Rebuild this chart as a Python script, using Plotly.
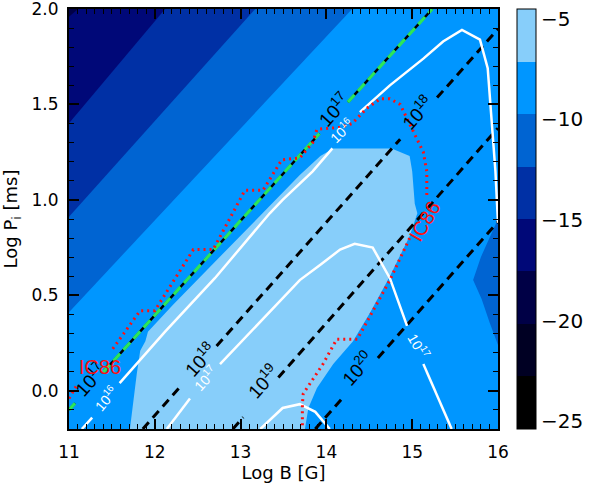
import plotly.graph_objects as go

# ---------------- data ----------------
B_RANGE = [11, 16]
P_RANGE = [-0.2, 2.0001]

# colour bands, bottom (lowest value) to top
band_colors = ['#000000', '#000023', '#000046', '#000878',
               '#0030a5', '#0064d2', '#0096ff', '#87cefa']
cb_min, cb_max = -25.39, -4.51
cb_ticks = [-25, -20, -15, -10, -5]
cb_ticktext = ['\u221225', '\u221220', '\u221215', '\u221210', '\u22125']

# filled-contour regions (boundaries in Log B, Log P)
band5_B = [11, 16, 16, 11]
band5_P = [-0.2, -0.2, 2.0, 2.0]
band6_B = [11.0, 11.0, 11.105]
band6_P = [1.96, 2.0, 2.0]
band4_B = [11, 11, 12.12, 16, 16]
band4_P = [-0.2, 1.402, 2.0, 2.0, -0.2]
band3_B = [11, 11, 13.17, 16, 16]
band3_P = [-0.2, 0.912, 2.0, 2.0, -0.2]
band2_B = [11, 11, 14.30, 16, 16]
band2_P = [-0.2, 0.412, 2.0, 2.0, -0.2]
wedge_B = [16, 15.90, 15.80, 15.71, 15.81, 15.90, 16]
wedge_P = [0.90, 0.80, 0.70, 0.58, 0.48, 0.36, 0.24]
blob_B = [11.71, 11.75, 11.79, 11.83, 11.89, 11.92, 12.21, 13.69, 13.93, 14.08,
          14.76, 14.97, 15.00, 15.03, 15.06, 14.97, 14.74, 14.51, 14.31, 14.08,
          13.89, 13.79, 13.75]
blob_P = [-0.2, -0.04, 0.09, 0.21, 0.26, 0.31, 0.45, 1.13, 1.23, 1.27,
          1.27, 1.23, 1.15, 0.98, 0.93, 0.81, 0.60, 0.41, 0.26, 0.14,
          0.015, -0.09, -0.2]

# black dashed lines (10^17 ... 10^20), gaps at the labels
e17_B = [11.0, 11.07, None, 11.40, 13.92, None, 14.25, 15.234]
e17_P = [-0.10, -0.065, None, 0.098, 1.348, None, 1.512, 2.0]
e18_B = [11.86, 12.29, None, 12.72, 14.86, None, 15.29, 16.0]
e18_P = [-0.2, 0.018, None, 0.235, 1.318, None, 1.536, 1.895]
e19_B = [12.91, 13.03, None, 13.44, 16.0]
e19_P = [-0.2, -0.139, None, 0.070, 1.376]
e20_B = [13.87, 14.18, None, 14.60, 16.0]
e20_P = [-0.2, -0.042, None, 0.172, 0.886]

# white solid contours
w16_B = [11.15, 11.27, None, 11.59, 12.12, 12.70, 13.11, 13.34, 13.49, 13.84, 14.07,
         None, 14.39, 14.74, 15.13, 15.36, 15.58, 15.79, 15.88, 15.94, 15.97, 16.0]
w16_P = [-0.2, -0.14, None, 0.04, 0.31, 0.59, 0.81, 0.93, 1.00, 1.15, 1.27,
         None, 1.46, 1.60, 1.74, 1.83, 1.89, 1.84, 1.69, 1.33, 1.15, 0.88]
w17_B = [12.14, 12.41, None, 12.76, 13.46, 13.69, 13.93, 14.16, 14.33, 14.54, 14.74,
         14.94, None, 15.13, 15.46]
w17_P = [-0.2, -0.04, None, 0.14, 0.47, 0.58, 0.66, 0.74, 0.77, 0.75, 0.59,
         0.34, None, 0.14, -0.2]
w18_B = [13.23, 13.49, 13.69, 13.87, 14.04]
w18_P = [-0.2, -0.09, -0.07, -0.11, -0.2]

# IC86 red dotted contour
ic_B = [11.0, 11.105, None, 11.51, 11.83, 12.00, 12.45, 12.68, 13.05, 13.26, 13.48,
        13.69, 13.84, 13.89, 14.16, 14.30, 14.47, 14.63, 14.74, 14.86, 15.01, 15.13,
        15.17, 15.17, None, 14.97, 14.74, 14.36, 14.12, 13.96, 13.73, 13.72, 13.72]
ic_P = [-0.04, 0.04, None, 0.22, 0.42, 0.42, 0.74, 0.74, 1.05, 1.05, 1.21,
        1.22, 1.30, 1.37, 1.38, 1.40, 1.48, 1.53, 1.53, 1.50, 1.36, 1.25,
        1.15, 1.02, None, 0.80, 0.58, 0.27, 0.27, 0.14, -0.015, -0.07, -0.2]

# contour labels: text, Log B, Log P, angle
black_labels = [("10<sup>17</sup>", 14.09, 1.474, -48),
                ("10<sup>18</sup>", 15.06, 1.46, -48),
                ("10<sup>17</sup>", 11.245, 0.062, -48),
                ("10<sup>18</sup>", 12.53, 0.165, -48),
                ("10<sup>19</sup>", 13.26, 0.05, -48),
                ("10<sup>20</sup>", 14.36, 0.12, -48)]
white_labels = [("10<sup>16</sup>", 14.18, 1.366, -45),
                ("10<sup>16</sup>", 11.43, -0.036, -50),
                ("10<sup>17</sup>", 12.59, 0.067, -48),
                ("10<sup>17</sup>", 15.08, 0.237, 60)]
red_labels = [("IC86", 11.36, 0.124, 0),
              ("IC86", 15.15, 0.887, -60)]

x_ticks = [11, 12, 13, 14, 15, 16]
y_ticks = [0.0, 0.5, 1.0, 1.5, 2.0]
y_ticktext = ['0.0', '0.5', '1.0', '1.5', '2.0']

FONT = "DejaVu Sans"
LFONT = "Liberation Sans"

# ---------------- figure ----------------
fig = go.Figure()


def poly(bx, py, color):
    fig.add_trace(go.Scatter(x=bx, y=py, mode='lines', fill='toself',
                             fillcolor=color, line=dict(width=0, color=color),
                             hoverinfo='skip', showlegend=False))


poly(band5_B, band5_P, band_colors[3])
poly(band6_B, band6_P, band_colors[2])
poly(band4_B, band4_P, band_colors[4])
poly(band3_B, band3_P, band_colors[5])
poly(band2_B, band2_P, band_colors[6])
poly(wedge_B, wedge_P, band_colors[5])
poly(blob_B, blob_P, band_colors[7])


def line(bx, py, color, width, dash='solid'):
    fig.add_trace(go.Scatter(x=bx, y=py, mode='lines',
                             line=dict(color=color, width=width, dash=dash),
                             connectgaps=False, hoverinfo='skip', showlegend=False))


# black dashed E lines
line(e17_B, e17_P, 'black', 2.5)
for bx, py in [(e18_B, e18_P), (e19_B, e19_P), (e20_B, e20_P)]:
    line(bx, py, 'black', 3, '9px,6px')
# green overlay on 10^17 line
line(e17_B, e17_P, '#2be65a', 3.2, '10px,5px')
# white contours
line(w16_B, w16_P, 'white', 2.5)
line(w17_B, w17_P, 'white', 2.5)
line(w18_B, w18_P, 'white', 2.5)
# red IC86 dotted
line(ic_B, ic_P, '#ff1010', 3, '2px,4px')

# colour bar (discrete bands)
n = len(band_colors)
cscale = []
for i, c in enumerate(band_colors):
    cscale.append([i / n, c])
    cscale.append([(i + 1) / n, c])
fig.add_trace(go.Scatter(
    x=[B_RANGE[0]], y=[P_RANGE[0]], mode='markers', hoverinfo='skip', showlegend=False,
    marker=dict(size=1, opacity=0, color=[cb_min], cmin=cb_min, cmax=cb_max,
                colorscale=cscale, showscale=True,
                colorbar=dict(thickness=19, thicknessmode='pixels', len=1.0,
                              lenmode='fraction', x=1.0443, xanchor='left',
                              y=0.5, yanchor='middle', xpad=0, ypad=0,
                              outlinewidth=1, outlinecolor='black',
                              tickvals=cb_ticks, ticktext=cb_ticktext, ticks='',
                              tickfont=dict(family=FONT, size=20, color='black')))))

annotations = []
for lst, col, size, fam in [(black_labels, 'black', 19, LFONT),
                            (white_labels, 'white', 14, LFONT),
                            (red_labels, '#ff1010', 20, LFONT)]:
    for txt, bx, py, ang in lst:
        annotations.append(dict(x=bx, y=py, xref='x', yref='y', text=txt,
                                showarrow=False, textangle=ang,
                                font=dict(family=fam, size=size, color=col),
                                xanchor='center', yanchor='middle'))

axis_common = dict(showline=True, linecolor='black', linewidth=2, mirror='ticks',
                   ticks='inside', ticklen=10, tickwidth=1.5, tickcolor='black',
                   showgrid=False, zeroline=False, automargin=False,
                   ticklabeloverflow='allow',
                   tickfont=dict(family=FONT, size=17, color='black'))

fig.update_layout(
    width=590, height=483,
    margin=dict(l=69, r=92, t=9, b=54, autoexpand=False),
    paper_bgcolor='white', plot_bgcolor='white',
    showlegend=False,
    annotations=annotations,
    xaxis=dict(range=B_RANGE, tickvals=x_ticks, ticklabelstandoff=7,
               minor=dict(dtick=0.1, tick0=11, ticks='inside', ticklen=5,
                          tickwidth=1.2, tickcolor='black'),
               title=dict(text='Log B [G]', standoff=6,
                          font=dict(family=FONT, size=18, color='black')),
               **axis_common),
    yaxis=dict(range=P_RANGE, tickvals=y_ticks, ticktext=y_ticktext,
               ticklabelstandoff=5,
               minor=dict(dtick=0.1, tick0=0, ticks='inside', ticklen=5,
                          tickwidth=1.2, tickcolor='black'),
               title=dict(text='Log P<sub>i</sub> [ms]', standoff=12,
                          font=dict(family=FONT, size=18, color='black')),
               **axis_common),
)

fig.write_html("out.html", config={'displayModeBar': False},
               post_script="document.body.style.margin='0';")
